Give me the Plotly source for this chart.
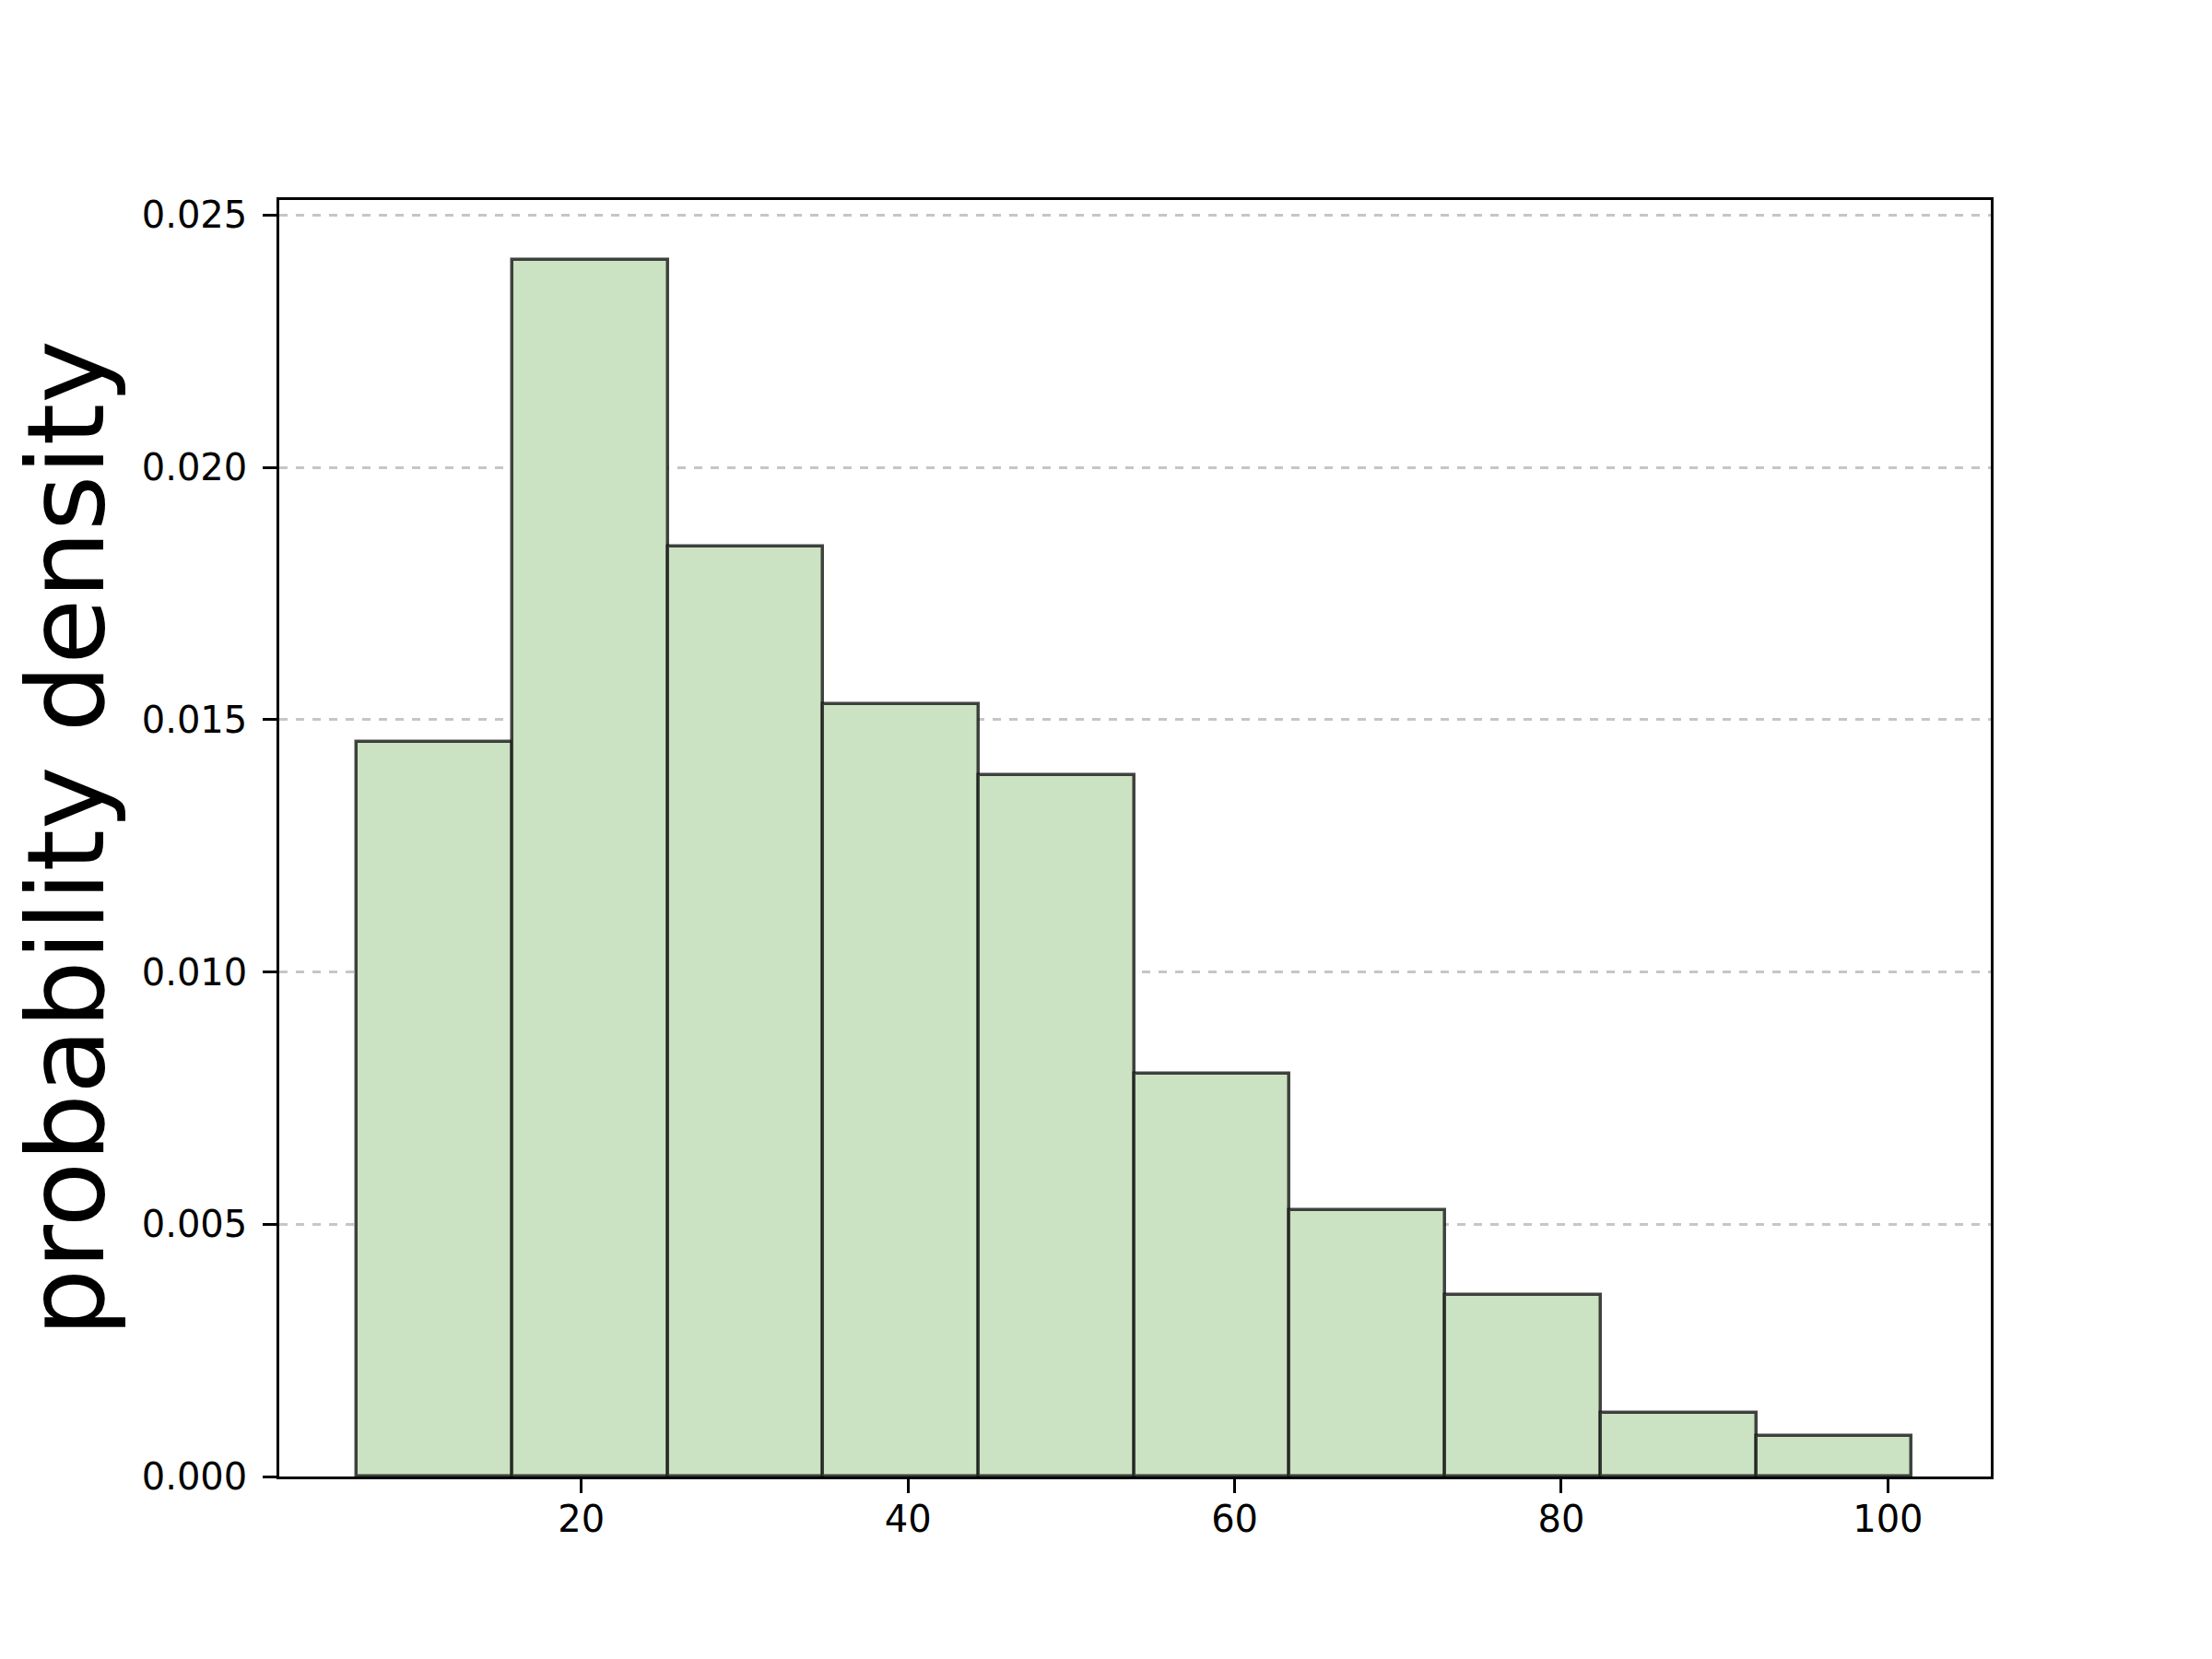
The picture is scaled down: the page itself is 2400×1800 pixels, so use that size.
import plotly.graph_objects as go

# Histogram bin edges and density values
bin_edges = [6.26, 15.78, 25.30, 34.82, 44.34, 53.86, 63.38, 72.90, 82.42, 91.94, 101.46]
density = [0.01455, 0.02411, 0.01844, 0.01531, 0.01391, 0.00799, 0.00528, 0.00360, 0.00126, 0.00081]
x_ticks = [20, 40, 60, 80, 100]
y_ticks = [0.0, 0.005, 0.010, 0.015, 0.020, 0.025]
y_label = "probability density"

centers = [(a + b) / 2 for a, b in zip(bin_edges[:-1], bin_edges[1:])]
widths = [b - a for a, b in zip(bin_edges[:-1], bin_edges[1:])]

FONT = "DejaVu Sans"
LW = 3.33

fig = go.Figure()
fig.add_trace(go.Bar(
    x=centers, y=density, width=widths,
    marker=dict(color="#cbe2c3", line=dict(color="rgba(20,22,20,0.8)", width=3.5)),
    showlegend=False,
))

fig.update_layout(
    width=2400, height=1800,
    margin=dict(l=295, r=248, t=209, b=206),
    paper_bgcolor="white", plot_bgcolor="white",
    font=dict(family=FONT, color="black"),
    bargap=0,
    xaxis=dict(
        range=[1.5, 106.3], tickvals=x_ticks, ticktext=[str(t) for t in x_ticks],
        showgrid=False, zeroline=False,
        showline=True, linecolor="black", linewidth=LW, mirror=True,
        ticks="outside", ticklen=14.6, tickwidth=LW, tickcolor="black",
        tickfont=dict(family=FONT, size=40, color="black"),
        ticklabelstandoff=-6,
    ),
    yaxis=dict(
        range=[0, 0.0253], tickvals=y_ticks, tickformat=".3f",
        showgrid=True, gridcolor="rgba(160,160,160,0.6)", gridwidth=3, griddash="dash",
        zeroline=False,
        showline=True, linecolor="black", linewidth=LW, mirror=True,
        ticks="outside", ticklen=14.6, tickwidth=LW, tickcolor="black",
        tickfont=dict(family=FONT, size=40, color="black"),
        ticklabelstandoff=9,
    ),
    annotations=[dict(
        text=y_label, textangle=-90, xref="paper", yref="paper",
        x=-0.1245, y=0.5, xanchor="center", yanchor="middle", showarrow=False,
        font=dict(family=FONT, size=116, color="black"),
    )],
)

fig.write_html("out.html")
